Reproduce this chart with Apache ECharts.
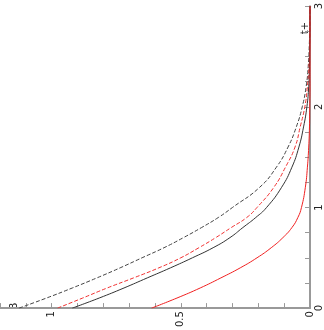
<!DOCTYPE html>
<html>
<head>
<meta charset="utf-8">
<script src="https://cdn.jsdelivr.net/npm/echarts@6/dist/echarts.min.js"></script>
<style>
html,body{margin:0;padding:0;background:#fff;}
#chart{width:324px;height:330px;}
</style>
</head>
<body>
<div id="chart"></div>
<script>
// t values (vertical axis after rotation) and B for each curve
var tVals      = [0, 0.1, 0.2, 0.3, 0.4, 0.5, 0.6, 0.7, 0.8, 0.9, 1.0, 1.2, 1.4, 1.6, 1.8, 2.0, 2.2, 2.4, 2.6, 2.8, 3.0];
var blackDash  = [1.126, 1.02, 0.92, 0.825, 0.735, 0.65, 0.565, 0.49, 0.42, 0.355, 0.30, 0.195, 0.13, 0.085, 0.053, 0.03, 0.015, 0.007, 0.003, 0.001, 0];
var redDash    = [0.977, 0.88, 0.785, 0.683, 0.585, 0.50, 0.43, 0.365, 0.305, 0.245, 0.205, 0.14, 0.095, 0.058, 0.038, 0.02, 0.01, 0.004, 0.0015, 0.0005, 0];
var blackSolid = [0.92, 0.816, 0.72, 0.63, 0.54, 0.455, 0.375, 0.31, 0.26, 0.21, 0.168, 0.11, 0.07, 0.043, 0.025, 0.012, 0.005, 0.002, 0.001, 0, 0];
var redSolid   = [0.613, 0.515, 0.425, 0.345, 0.27, 0.205, 0.15, 0.105, 0.07, 0.047, 0.033, 0.018, 0.01, 0.005, 0.002, 0.001, 0, 0, 0, 0, 0];
var bLabels = ['0', '0.5', '1'];
var tLabels = ['0', '1', '2', '3'];

function pairs(arr) {
    var out = [];
    for (var i = 0; i < tVals.length; i++) out.push([arr[i], tVals[i]]);
    return out;
}

var chart = echarts.init(document.getElementById('chart'));
var option = {
    animation: false,
    grid: {left: 0, right: 11, top: 2, bottom: 14},
    xAxis: {
        type: 'value',
        inverse: true,
        min: 0, max: 1.2, interval: 0.1,
        axisLine: {lineStyle: {color: '#999', width: 2}},
        axisTick: {inside: true, length: 5, lineStyle: {color: '#999'}},
        splitLine: {show: false},
        axisLabel: {
            rotate: 90, margin: 3, fontSize: 10, color: '#222', fontFamily: 'DejaVu Sans',
            formatter: function(v) {
                var r = Math.round(v * 10);
                var s = r % 10 === 0 ? String(r / 10) : (r % 5 === 0 ? (r / 10).toFixed(1) : '');
                return bLabels.indexOf(s) >= 0 ? s : '';
            }
        }
    },
    yAxis: {
        type: 'value',
        position: 'right',
        min: 0, max: 3, interval: 0.25,
        axisLine: {onZero: false, lineStyle: {color: '#999', width: 2}},
        axisTick: {inside: true, length: 5, lineStyle: {color: '#999'}},
        splitLine: {show: false},
        axisLabel: {
            rotate: 90, margin: 4, fontSize: 10, color: '#222', fontFamily: 'DejaVu Sans',
            formatter: function(v) {
                var s = String(Math.round(v * 100) / 100);
                return tLabels.indexOf(s) >= 0 ? s : '';
            }
        }
    },
    graphic: [
        {type: 'text', x: 14, y: 306, rotation: Math.PI / 2,
         style: {text: 'B', fontSize: 10, fill: '#222', align: 'center', verticalAlign: 'middle', fontFamily: 'DejaVu Sans'}},
        {type: 'text', x: 305, y: 28, rotation: Math.PI / 2,
         style: {text: 't+', fontSize: 10, fill: '#222', align: 'center', verticalAlign: 'middle', fontFamily: 'DejaVu Sans'}}
    ],
    series: [
        {type: 'line', smooth: true, symbol: 'none', data: pairs(blackDash),
         lineStyle: {color: '#444', width: 1, type: [4, 2]}},
        {type: 'line', smooth: true, symbol: 'none', data: pairs(redDash),
         lineStyle: {color: '#f03030', width: 1, type: [4, 2]}},
        {type: 'line', smooth: true, symbol: 'none', data: pairs(blackSolid),
         lineStyle: {color: '#333', width: 1}},
        {type: 'line', smooth: true, symbol: 'none', data: pairs(redSolid),
         lineStyle: {color: '#f02020', width: 1}}
    ]
};
chart.setOption(option);
</script>
</body>
</html>
